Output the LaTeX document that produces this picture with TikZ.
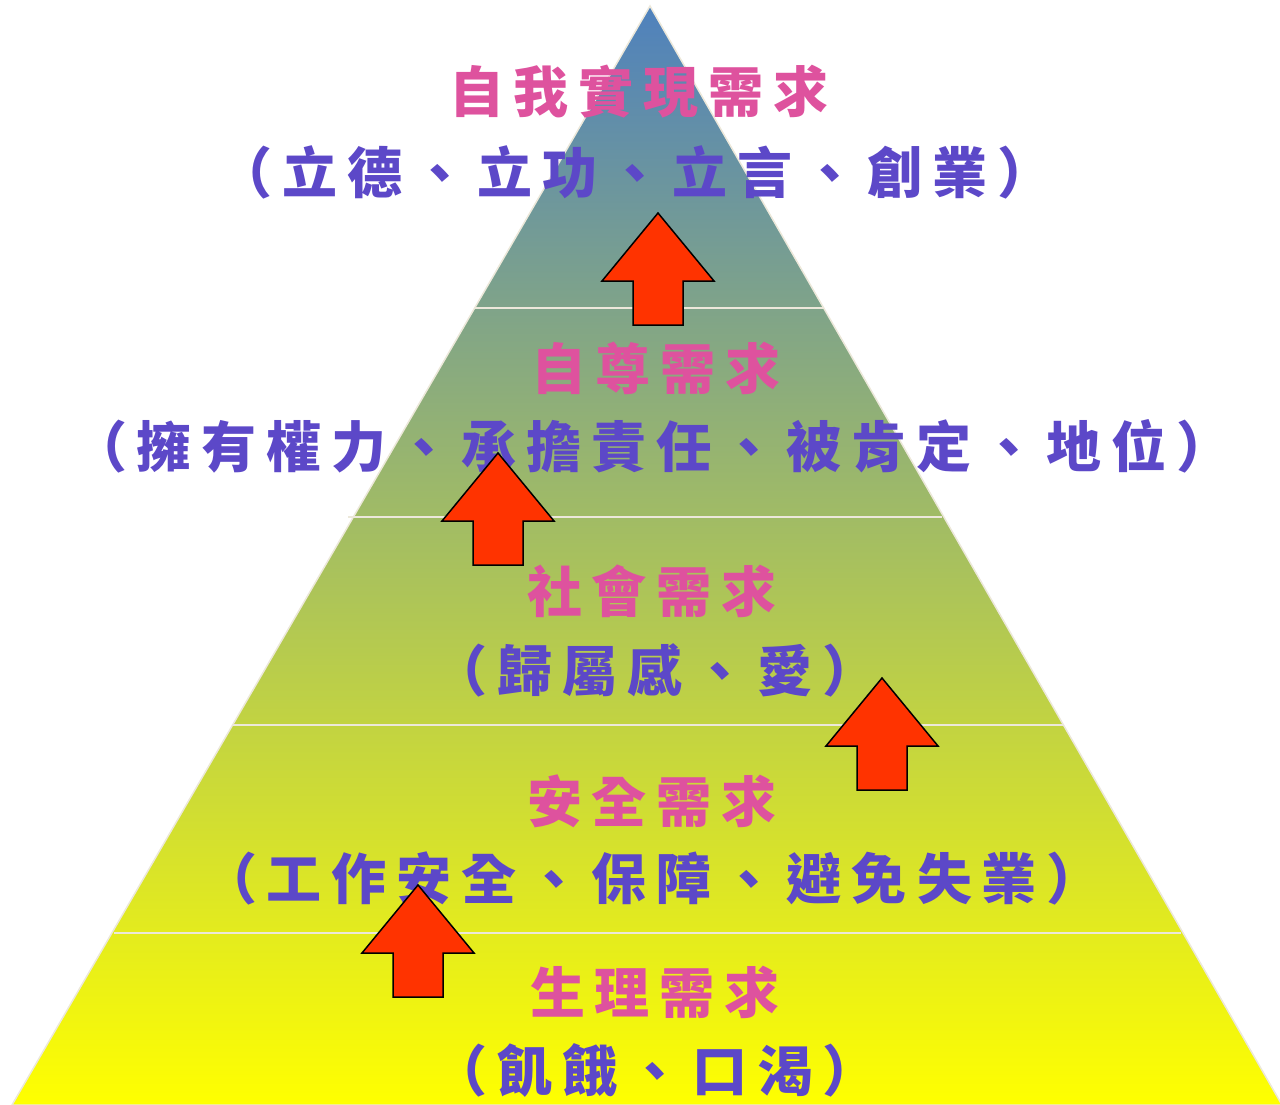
\documentclass[tikz,border=0pt]{standalone}
\usepackage{fontspec}
\newfontfamily\cjk{Noto Sans CJK TC}
\makeatletter
\newlength\chargap
\setlength\chargap{10pt}
\newcommand\spaced[1]{\let\sp@first\relax\@tfor\sp@c:=#1\do{\ifx\sp@first\relax\else\hspace{\chargap}\fi\sp@c\let\sp@first\@empty}}
\makeatother
\definecolor{pinkT}{RGB}{222,82,158}
\definecolor{purpT}{RGB}{92,72,200}
\definecolor{topC}{RGB}{79,129,189}
\definecolor{botC}{RGB}{255,255,0}
\definecolor{edgeC}{RGB}{236,232,218}
\definecolor{arrowC}{RGB}{255,51,0}
\tikzset{
  title/.style={inner sep=0pt, text=pinkT, font=\cjk\bfseries\fontsize{55}{60}\selectfont},
  sub/.style={inner sep=0pt, text=purpT, font=\cjk\bfseries\fontsize{55}{60}\selectfont},
  divider/.style={draw=edgeC, line width=2pt},
  arrowshape/.style={fill=arrowC, draw=black, line width=1.5pt, line join=miter},
  uparr/.pic={\path[arrowshape] (0,0) -- (56,68) -- (25,68) -- (25,112) -- (-25,112) -- (-25,68) -- (-56,68) -- cycle;}
}
\begin{document}
\begin{tikzpicture}[x=1pt,y=-1pt]
\useasboundingbox (0,0) rectangle (1280,1105);
\path[shade, top color=topC, bottom color=botC, draw=edgeC, line width=1.5pt]
  (650,6) -- (1282,1105) -- (12,1105) -- cycle;
\draw[divider] (474,308) -- (824,308);
\draw[divider] (348,517) -- (942,517);
\draw[divider] (232,725) -- (1064,725);
\draw[divider] (114,933) -- (1181,933);
% texts
\node[title] (t1) at (639,92) {\spaced{自我實現需求}};
\node[sub]   (s1) at (635,172) {\spaced{（立德、立功、立言、創業）}};
\node[title] (t2) at (656,368) {\spaced{自尊需求}};
\node[sub]   (s2) at (652,446) {\spaced{（擁有權力、承擔責任、被肯定、地位）}};
\node[title] (t3) at (652,591) {\spaced{社會需求}};
\node[sub]   (s3) at (655,670) {\spaced{（歸屬感、愛）}};
\node[title] (t4) at (652,801) {\spaced{安全需求}};
\node[sub]   (s4) at (652,878) {\spaced{（工作安全、保障、避免失業）}};
\node[title] (t5) at (655,992) {\spaced{生理需求}};
\node[sub]   (s5) at (655,1070) {\spaced{（飢餓、口渴）}};
% arrows
\pic at (658,213) {uparr};
\pic at (498,453) {uparr};
\pic at (882,678) {uparr};
\pic at (418,885) {uparr};
\end{tikzpicture}
\end{document}
